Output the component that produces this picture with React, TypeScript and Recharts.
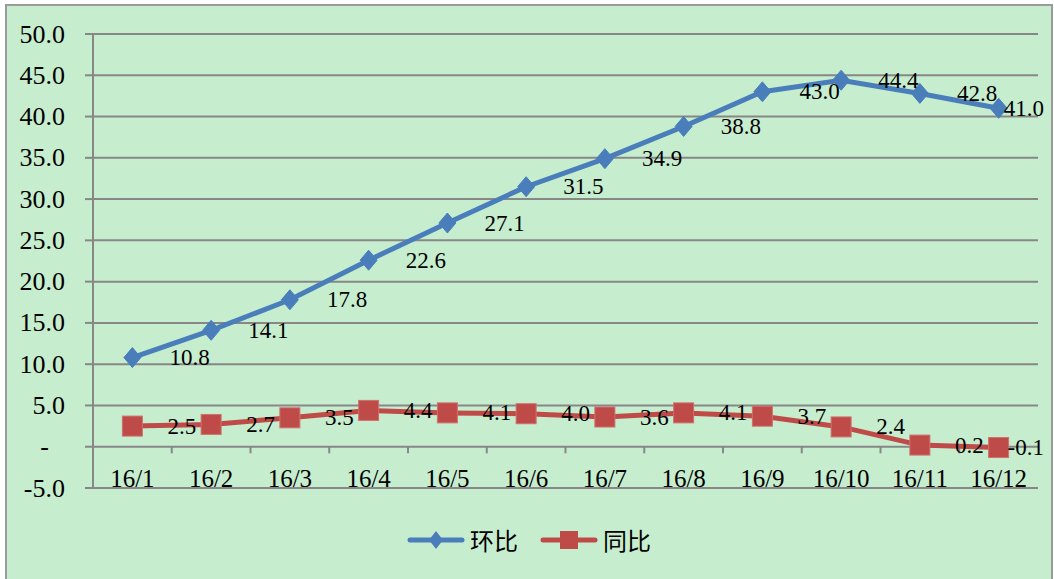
import React from "react";
import {
  LineChart,
  Line,
  XAxis,
  YAxis,
  CartesianGrid,
  ReferenceLine,
  LabelList,
} from "recharts";

const months = ["16/1", "16/2", "16/3", "16/4", "16/5", "16/6", "16/7", "16/8", "16/9", "16/10", "16/11", "16/12"];
const huanbi = [10.8, 14.1, 17.8, 22.6, 27.1, 31.5, 34.9, 38.8, 43.0, 44.4, 42.8, 41.0];
const tongbi = [2.5, 2.7, 3.5, 4.4, 4.1, 4.0, 3.6, 4.1, 3.7, 2.4, 0.2, -0.1];
const yTicks = [-5, 0, 5, 10, 15, 20, 25, 30, 35, 40, 45, 50];

const BLUE = "#4a7ebb";
const RED = "#be4b48";
const GRID = "#878787";
const SERIF = "'Liberation Serif', 'Times New Roman', serif";
const CJK = "'Noto Sans CJK SC', sans-serif";
const LABEL_SIZE = 23;
const RIGHT_LIMIT = 1044;

const data = months.map((m, i) => ({
  idx: i + 1,
  month: m,
  huanbi: huanbi[i],
  tongbi: tongbi[i],
}));

// category boundaries for the small tick marks on the zero line
const boundaries = months.slice(1).map((_, i) => i + 1.5);

const DiamondDot = (props: any) => {
  const { cx, cy } = props;
  if (cx == null || cy == null) return null;
  return (
    <path
      d={`M${cx},${cy - 10} L${cx + 8.5},${cy} L${cx},${cy + 10} L${cx - 8.5},${cy} Z`}
      fill={BLUE}
      stroke={BLUE}
      strokeWidth={1}
    />
  );
};

const SquareDot = (props: any) => {
  const { cx, cy } = props;
  if (cx == null || cy == null) return null;
  return <rect x={cx - 10} y={cy - 10} width={20} height={20} fill={RED} stroke="#d0706d" strokeWidth={1} />;
};

const textWidth = (s: string, size: number) =>
  s.split("").reduce((w, c) => w + (c === "." ? 0.25 : c === "-" ? 0.333 : 0.5) * size, 0);

// data label to the right of the point, pulled back inside the chart near the right edge
const makeLabel = (gap: number) => (p: any) => {
  const px = p.viewBox?.x ?? p.x;
  const py = p.viewBox?.y ?? p.y;
  if (px == null || py == null) return null;
  const s = Number(p.value).toFixed(1);
  let x = px + gap;
  const w = textWidth(s, LABEL_SIZE);
  if (x + w > RIGHT_LIMIT) x = RIGHT_LIMIT - w;
  return (
    <text
      key={`l-${p.index}-${px}`}
      x={x}
      y={py}
      dominantBaseline="central"
      fontFamily={SERIF}
      fontSize={LABEL_SIZE}
      fill="#000"
    >
      {s}
    </text>
  );
};

const YTick = (props: any) => {
  const { x, y, payload } = props;
  const v = payload.value as number;
  return (
    <text
      x={v === 0 ? x - 16 : x}
      y={y}
      textAnchor="end"
      dominantBaseline="central"
      fontFamily={SERIF}
      fontSize={26}
      fill="#000"
    >
      {v === 0 ? "-" : v.toFixed(1)}
    </text>
  );
};

const XTick = (props: any) => {
  const { x, y, payload } = props;
  return (
    <text x={x} y={y - 1} textAnchor="middle" fontFamily={SERIF} fontSize={25} fill="#000">
      {months[payload.value - 1]}
    </text>
  );
};

const LegendItem = ({ color, label, square }: { color: string; label: string; square?: boolean }) => (
  <div style={{ display: "flex", alignItems: "center", marginRight: 22 }}>
    <svg width={58} height={20}>
      <line x1={3} y1={10} x2={55} y2={10} stroke={color} strokeWidth={5} strokeLinecap="round" />
      {square ? (
        <rect x={20} y={1} width={18} height={18} fill={color} />
      ) : (
        <path d="M29,1 L36,10 L29,19 L22,10 Z" fill={color} />
      )}
    </svg>
    <span style={{ fontFamily: CJK, fontSize: 24, color: "#000", marginLeft: 5, lineHeight: "24px" }}>{label}</span>
  </div>
);

export default function App() {
  return (
    <div style={{ position: "absolute", left: 0, top: 0, width: 1054, height: 579, overflow: "hidden" }}>
      <div
        style={{
          position: "absolute",
          left: 5,
          top: 4,
          width: 1044,
          height: 600,
          background: "#c7edcf",
          border: "2px solid #9a9a9a",
        }}
      />
      <div style={{ position: "absolute", left: 0, top: 0 }}>
        <LineChart width={1054} height={579} data={data} margin={{ top: 34, right: 16, bottom: 61, left: 0 }}>
          <CartesianGrid horizontal vertical={false} stroke={GRID} strokeWidth={2} />
          <XAxis
            dataKey="idx"
            type="number"
            domain={[0.5, 12.5]}
            ticks={data.map((d) => d.idx)}
            axisLine={false}
            tickLine={false}
            tickSize={0}
            tickMargin={0}
            height={30}
            tick={<XTick />}
            interval={0}
          />
          <YAxis
            domain={[-5, 50]}
            ticks={yTicks}
            width={93}
            axisLine={{ stroke: GRID, strokeWidth: 2 }}
            tickLine={{ stroke: GRID, strokeWidth: 2 }}
            tickSize={8}
            tickMargin={20}
            tick={<YTick />}
            interval={0}
          />
          {boundaries.map((b) => (
            <ReferenceLine
              key={b}
              segment={[
                { x: b, y: 0 },
                { x: b, y: -0.8 },
              ]}
              stroke={GRID}
              strokeWidth={2}
              ifOverflow="visible"
            />
          ))}
          <Line
            type="linear"
            dataKey="huanbi"
            stroke={BLUE}
            strokeWidth={5}
            dot={<DiamondDot />}
            activeDot={false}
            isAnimationActive={false}
          >
            <LabelList dataKey="huanbi" content={makeLabel(37)} />
          </Line>
          <Line
            type="linear"
            dataKey="tongbi"
            stroke={RED}
            strokeWidth={5}
            dot={<SquareDot />}
            activeDot={false}
            isAnimationActive={false}
          >
            <LabelList dataKey="tongbi" content={makeLabel(35)} />
          </Line>
        </LineChart>
      </div>
      <div
        style={{
          position: "absolute",
          top: 528,
          left: 407,
          display: "flex",
          alignItems: "center",
        }}
      >
        <LegendItem color={BLUE} label="环比" />
        <LegendItem color={RED} label="同比" square />
      </div>
    </div>
  );
}
